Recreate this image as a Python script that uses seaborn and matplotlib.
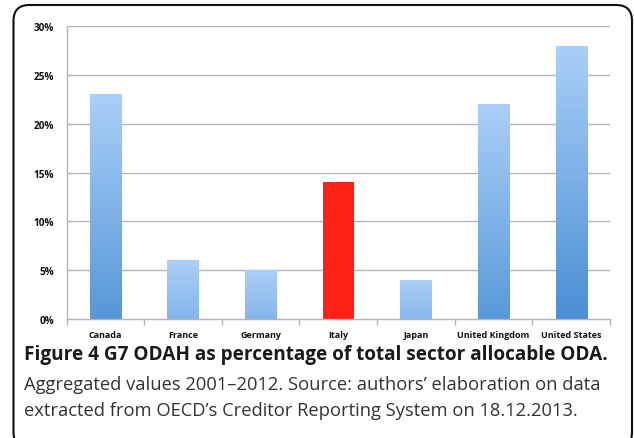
import numpy as np
import pandas as pd
import matplotlib
matplotlib.use("Agg")
import matplotlib.pyplot as plt
import seaborn as sns
from matplotlib.patches import FancyBboxPatch
from matplotlib.colors import LinearSegmentedColormap

countries = ["Canada", "France", "Germany", "Italy", "Japan", "United Kingdom", "United States"]
values = [23, 6, 5, 14, 4, 22, 28]
highlight = "Italy"
yticks = [0, 5, 10, 15, 20, 25, 30]
ytick_labels = ["0%", "5%", "10%", "15%", "20%", "25%", "30%"]

caption_title = "Figure 4 G7 ODAH as percentage of total sector allocable ODA."
caption_line1 = "Aggregated values 2001\u20132012. Source: authors\u2019 elaboration on data"
caption_line2 = "extracted from OECD\u2019s Creditor Reporting System on 18.12.2013."

df = pd.DataFrame({"country": countries, "value": values})

sns.set_theme(style="white")
plt.rcParams["font.family"] = ["Open Sans", "DejaVu Sans"]

fig = plt.figure(figsize=(6.34, 4.39), dpi=100)
ax = fig.add_axes([66.5 / 634, 1 - 320 / 439, (610 - 66.5) / 634, (320 - 27) / 439])

sns.barplot(data=df, x="country", y="value", ax=ax, width=0.4, color="#7fb1e6",
            order=countries, saturation=1)

ax.set_ylim(0, 30)
ax.set_xlim(-0.5, len(countries) - 0.5)
ax.set_yticks(yticks)
ax.set_yticklabels(ytick_labels)
ax.set_xlabel("")
ax.set_ylabel("")

for yv in yticks[1:]:
    ax.axhline(yv, color="#b4b4b4", lw=1.0, zorder=0)

blue_cmap = LinearSegmentedColormap.from_list("bl", ["#4a8fd3", "#abcff8"])
maxv = 28.0
for patch, name, v in zip(ax.patches, countries, values):
    x0 = patch.get_x()
    w = patch.get_width()
    h = patch.get_height()
    if name == highlight:
        patch.set_facecolor("#ff2016")
        patch.set_edgecolor("none")
        continue
    patch.set_facecolor("none")
    patch.set_edgecolor("none")
    lo = 1 - h / maxv
    g = np.linspace(lo * 0.75, 1, 256).reshape(-1, 1)
    im = ax.imshow(g, cmap=blue_cmap, vmin=0, vmax=1, aspect="auto", origin="lower",
                   extent=[x0, x0 + w, 0, h], zorder=2)
    im.set_clip_path(patch)

ax.set_xlim(-0.5, len(countries) - 0.5)
ax.set_ylim(0, 30)

for s in ["top", "right"]:
    ax.spines[s].set_visible(False)
ax.spines["left"].set_color("#b4b4b4")
ax.spines["bottom"].set_color("#b4b4b4")
ax.spines["left"].set_linewidth(1.0)
ax.spines["bottom"].set_linewidth(1.0)

ax.set_xticks(np.arange(-0.5, len(countries) + 0.5, 1), minor=True)
ax.tick_params(axis="x", which="minor", length=4, color="#b4b4b4", width=1, bottom=True)
ax.tick_params(axis="x", which="major", length=0, pad=8, labelsize=6.5)
ax.tick_params(axis="y", length=0, pad=9, labelsize=7.2)
for lab in ax.get_xticklabels() + ax.get_yticklabels():
    lab.set_fontweight("bold")
    lab.set_color("#111111")

fig.text(24 / 634, 1 - 355 / 439, caption_title, fontsize=13.7, fontweight="bold",
         color="#1a1a1a", va="center", ha="left")
fig.text(24 / 634, 1 - 385 / 439, caption_line1, fontsize=13.2,
         color="#333333", va="center", ha="left")
fig.text(24 / 634, 1 - 411 / 439, caption_line2, fontsize=13.2,
         color="#333333", va="center", ha="left")

border = FancyBboxPatch((13.5 / 634, -10 / 439), (632 - 13.5) / 634, (433 + 10) / 439,
                        boxstyle="round,pad=0,rounding_size=0.025",
                        transform=fig.transFigure, fill=False, edgecolor="#111111",
                        linewidth=1.5, clip_on=False, mutation_aspect=634 / 439)
fig.patches.append(border)

fig.savefig("out.png", dpi=100)
